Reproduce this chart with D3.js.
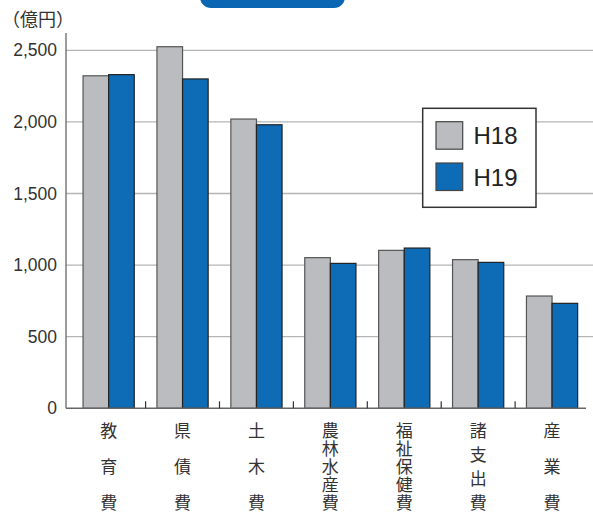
<!DOCTYPE html>
<html>
<head>
<meta charset="utf-8">
<script src="https://cdn.jsdelivr.net/npm/d3@7"></script>
<style>
  html, body { margin: 0; padding: 0; background: #fff; }
  svg { display: block; }
</style>
</head>
<body>
<svg id="chart" width="593" height="512"></svg>
<script>
// 歳出の主な内訳（億円）
const categories = ["教育費", "県債費", "土木費", "農林水産費", "福祉保健費", "諸支出費", "産業費"];
const seriesNames = ["H18", "H19"];
const valuesH18 = [2322, 2525, 2020, 1052, 1103, 1038, 784];
const valuesH19 = [2330, 2300, 1980, 1012, 1119, 1019, 733];
const yTicks = [0, 500, 1000, 1500, 2000, 2500];
const unitLabel = "（億円）";

const colors = { H18: "#bbbcc0", H19: "#0d6cb5" };
const seriesValues = { H18: valuesH18, H19: valuesH19 };

const svg = d3.select("#chart");
const jpFont = "'Noto Sans CJK JP', sans-serif";
const numFont = "'Liberation Sans', Arial, sans-serif";

const axisX = 66, baseY = 408.3;

const x = d3.scaleBand().domain(categories).range([71.7, 589]).paddingInner(0).paddingOuter(0);
const xs = d3.scaleBand().domain(seriesNames).range([0, 51.2]);
const groupOffset = (x.bandwidth() - 51.2) / 2;
const y = d3.scaleLinear().domain([0, 2500]).range([baseY, 50.3]);

// header tab at the top
svg.append("rect")
  .attr("x", 200).attr("y", -20).attr("width", 145).attr("height", 28)
  .attr("rx", 11).attr("fill", "#0a66b3");

// unit label
svg.append("text")
  .attr("x", 2).attr("y", 26)
  .attr("font-family", jpFont).attr("font-size", 18).attr("fill", "#333")
  .text(unitLabel);

// horizontal gridlines
svg.append("g")
  .selectAll("line")
  .data(yTicks.filter(d => d > 0))
  .join("line")
  .attr("x1", axisX).attr("x2", 593)
  .attr("y1", d => y(d)).attr("y2", d => y(d))
  .attr("stroke", "#b5b5b5").attr("stroke-width", 1.3);

// y axis
const yAxis = d3.axisLeft(y).tickValues(yTicks).tickSize(0).tickPadding(9)
  .tickFormat(d3.format(","));
const yg = svg.append("g").attr("transform", `translate(${axisX},0)`).call(yAxis);
yg.select(".domain").remove();
yg.selectAll("text")
  .attr("font-family", numFont).attr("font-size", 17.5).attr("fill", "#333");
svg.append("line")
  .attr("x1", axisX).attr("x2", axisX).attr("y1", 33).attr("y2", baseY)
  .attr("stroke", "#666").attr("stroke-width", 1.3);

// bars
const groups = svg.append("g")
  .selectAll("g")
  .data(categories)
  .join("g")
  .attr("transform", d => `translate(${x(d) + groupOffset},0)`);

groups.selectAll("rect")
  .data((c, i) => seriesNames.map(s => ({ s, v: seriesValues[s][i] })))
  .join("rect")
  .attr("x", d => xs(d.s))
  .attr("width", xs.bandwidth())
  .attr("y", d => y(d.v))
  .attr("height", d => baseY - y(d.v))
  .attr("fill", d => colors[d.s])
  .attr("stroke", d => d.s === "H18" ? "#555" : "#222")
  .attr("stroke-width", 1.2);

// x baseline with category separators
const xAxis = d3.axisBottom(x).tickSize(0).tickFormat("");
const xg = svg.append("g").attr("transform", `translate(0,${baseY})`).call(xAxis);
xg.select(".domain").remove();
svg.append("line")
  .attr("x1", axisX).attr("x2", 586).attr("y1", baseY).attr("y2", baseY)
  .attr("stroke", "#666").attr("stroke-width", 1.5);
svg.append("g")
  .selectAll("line")
  .data(categories.slice(1))
  .join("line")
  .attr("x1", d => x(d)).attr("x2", d => x(d))
  .attr("y1", baseY - 7).attr("y2", baseY)
  .attr("stroke", "#333").attr("stroke-width", 1.2);

// vertical category labels, one character per line, spread to a common height
const labelTop = 429, labelBottom = 501;
svg.append("g")
  .selectAll("g")
  .data(categories)
  .join("g")
  .each(function (c) {
    const chars = Array.from(c);
    const n = chars.length;
    const step = (labelBottom - labelTop) / (n - 1);
    d3.select(this).selectAll("text")
      .data(chars)
      .join("text")
      .attr("x", x(c) + x.bandwidth() / 2)
      .attr("y", (d, i) => labelTop + i * step)
      .attr("text-anchor", "middle")
      .attr("dominant-baseline", "central")
      .attr("font-family", jpFont).attr("font-size", 17).attr("fill", "#333")
      .text(d => d);
  });

// legend
const legend = svg.append("g");
legend.append("rect")
  .attr("x", 422.7).attr("y", 108.3).attr("width", 113.3).attr("height", 99)
  .attr("fill", "#fff").attr("stroke", "#333").attr("stroke-width", 1.5);
const legendItems = legend.selectAll("g")
  .data(seriesNames)
  .join("g")
  .attr("transform", (d, i) => `translate(436,${121.7 + i * 41.3})`);
legendItems.append("rect")
  .attr("width", 26.7).attr("height", 27.5)
  .attr("fill", d => colors[d]).attr("stroke", "#444").attr("stroke-width", 1.2);
legendItems.append("text")
  .attr("x", 37.5).attr("y", 14)
  .attr("dominant-baseline", "central")
  .attr("font-family", numFont).attr("font-size", 24).attr("fill", "#222")
  .text(d => d);
</script>
</body>
</html>
